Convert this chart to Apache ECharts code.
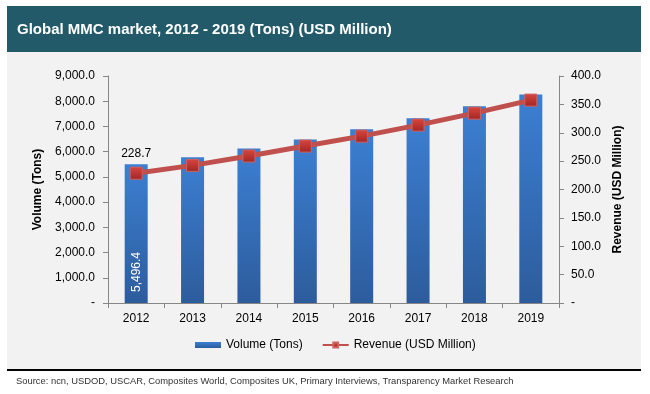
<!DOCTYPE html>
<html>
<head>
<meta charset="utf-8">
<script src="https://cdn.jsdelivr.net/npm/echarts@6/dist/echarts.min.js"></script>
<style>html,body{margin:0;padding:0;background:#fff}#c{width:650px;height:394px}</style>
</head>
<body>
<div id="c"></div>
<script>
const titleText = 'Global MMC market, 2012 - 2019 (Tons) (USD Million)';
const sourceText = 'Source: ncn, USDOD, USCAR, Composites World, Composites UK, Primary Interviews, Transparency Market Research';
const categories = ['2012','2013','2014','2015','2016','2017','2018','2019'];
const volume = [5496.4, 5780, 6130, 6480, 6890, 7320, 7800, 8270];
const revenue = [228.7, 242.5, 259.0, 276.5, 294.0, 313.5, 334.5, 357.5];
const volumeName = 'Volume (Tons)';
const revenueName = 'Revenue (USD Million)';

const fmt = (v, d) => v === 0 ? '-' : v.toLocaleString('en-US', {minimumFractionDigits: d, maximumFractionDigits: d});
const font = 'Liberation Sans, Arial, sans-serif';
const axisColor = '#868686';

const chart = echarts.init(document.getElementById('c'), null, {renderer: 'canvas'});
chart.setOption({
  backgroundColor: '#ffffff',
  animation: false,
  textStyle: {fontFamily: font},
  graphic: [
    {type: 'rect', shape: {x: 7, y: 6, width: 634, height: 46}, style: {fill: '#225a69'}, z: -10},
    {type: 'rect', shape: {x: 7, y: 52, width: 634, height: 317}, style: {fill: '#f2f2f2'}, z: -10},
    {type: 'rect', shape: {x: 7, y: 369, width: 634, height: 2}, style: {fill: '#000000'}, z: -10},
    {type: 'text', left: 16, top: 377, style: {text: sourceText, fill: '#333333', font: '9.4px ' + font}}
  ],
  title: {
    text: titleText, left: 12, top: 17,
    textStyle: {color: '#ffffff', fontSize: 15, fontWeight: 'bold', fontFamily: font}
  },
  legend: {
    left: 190, top: 334, itemGap: 19, itemWidth: 26, itemHeight: 6,
    textStyle: {fontSize: 12, color: '#000', fontFamily: font},
    data: [
      {name: volumeName, icon: 'rect'},
      {name: revenueName}
    ]
  },
  grid: {left: 108, right: 91, top: 76, bottom: 91},
  xAxis: {
    type: 'category', data: categories,
    axisLine: {lineStyle: {color: axisColor}},
    axisTick: {show: true, length: 5, lineStyle: {color: axisColor}},
    axisLabel: {color: '#000', fontSize: 12, margin: 10, fontFamily: font}
  },
  yAxis: [
    {
      type: 'value', min: 0, max: 9000, interval: 1000,
      name: volumeName, nameLocation: 'middle', nameGap: 59, nameRotate: 90,
      nameTextStyle: {fontWeight: 'bold', fontSize: 12, color: '#000', fontFamily: font},
      axisLine: {show: true, lineStyle: {color: axisColor}},
      axisTick: {show: true, length: 5, lineStyle: {color: axisColor}},
      splitLine: {show: false},
      axisLabel: {color: '#000', fontSize: 12, margin: 13, formatter: v => fmt(v, 1), fontFamily: font}
    },
    {
      type: 'value', min: 0, max: 400, interval: 50,
      name: revenueName, nameLocation: 'middle', nameGap: 52, nameRotate: 90,
      nameTextStyle: {fontWeight: 'bold', fontSize: 12, color: '#000', fontFamily: font},
      axisLine: {show: true, lineStyle: {color: axisColor}},
      axisTick: {show: true, length: 5, lineStyle: {color: axisColor}},
      splitLine: {show: false},
      axisLabel: {color: '#000', fontSize: 12, margin: 12, formatter: v => fmt(v, 1), fontFamily: font}
    }
  ],
  series: [
    {
      name: volumeName, type: 'bar', data: volume, barWidth: 23, yAxisIndex: 0,
      itemStyle: {color: new echarts.graphic.LinearGradient(0, 0, 0, 1, [
        {offset: 0, color: '#3c7fd2'}, {offset: 1, color: '#2d5c9c'}
      ])},
      label: {
        show: true, position: 'insideBottom', rotate: 90, align: 'left', verticalAlign: 'middle',
        distance: 11, color: '#ffffff', fontSize: 12, fontFamily: font,
        formatter: p => p.dataIndex === 0 ? fmt(p.value, 1) : ''
      }
    },
    {
      name: revenueName, type: 'line', data: revenue, yAxisIndex: 1,
      symbol: 'rect', symbolSize: 12,
      lineStyle: {color: '#c0504d', width: 5},
      itemStyle: {
        color: new echarts.graphic.LinearGradient(0, 0, 0, 1, [
          {offset: 0, color: '#d9453d'}, {offset: 1, color: '#a12626'}
        ]),
        borderColor: '#d0605c', borderWidth: 1
      },
      label: {
        show: true, position: 'top', distance: 7, color: '#000', fontSize: 12, fontFamily: font,
        formatter: p => p.dataIndex === 0 ? fmt(p.value, 1) : ''
      }
    }
  ]
});
</script>
</body>
</html>
